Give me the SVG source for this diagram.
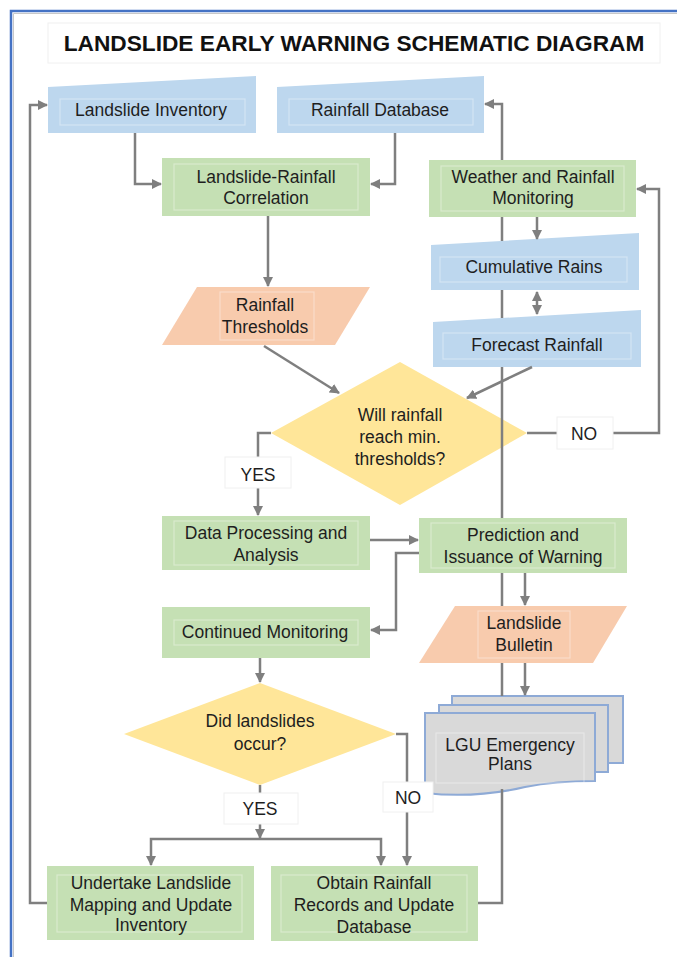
<svg xmlns="http://www.w3.org/2000/svg" width="677" height="957" viewBox="0 0 677 957">
<defs>
<marker id="ah" markerUnits="userSpaceOnUse" markerWidth="10" markerHeight="10" refX="9" refY="5" orient="auto-start-reverse" viewBox="0 0 10 10">
<path d="M0,0 L10,5 L0,10 z" fill="#7f7f7f"/>
</marker>
</defs>
<style>
text { font-family: "Liberation Sans", Arial, sans-serif; font-size: 17.5px; fill: #1e1e1e; text-anchor: middle; }
.title { font-size: 22.7px; font-weight: bold; fill: #111; }
.g { fill: #c5e0b4; }
.b { fill: #bdd7ee; }
.o { fill: #f8cbad; }
.y { fill: #ffe699; }
.doc { fill: #d9d9d9; stroke: #8eaad6; stroke-width: 2; }
.in { fill: none; stroke: #ffffff; stroke-opacity: 0.35; stroke-width: 1.2; }
.lbl { fill: #ffffff; stroke: #f0f0f0; stroke-width: 1; }
.c { fill: none; stroke: #7f7f7f; stroke-width: 2.5; }
.a { marker-end: url(#ah); }
.s { marker-start: url(#ah); }
</style>
<rect x="0" y="0" width="677" height="957" fill="#ffffff"/>
<rect x="11" y="11" width="700" height="1000" fill="none" stroke="#4472c4" stroke-width="2.5"/>
<line x1="13.5" y1="13.5" x2="677" y2="13.5" stroke="#c8c8c8" stroke-width="1"/>
<line x1="13.5" y1="13.5" x2="13.5" y2="957" stroke="#c8c8c8" stroke-width="1"/>

<g id="title">
<rect x="48" y="23" width="612" height="40" fill="#ffffff" stroke="#f0f0f0" stroke-width="1"/>
<text class="title" x="354" y="51">LANDSLIDE EARLY WARNING SCHEMATIC DIAGRAM</text>
</g>

<g id="landslide-inventory">
<path class="b" d="M48,87 L256,76 L256,133 L48,133 Z"/>
<rect class="in" x="60" y="99" width="185" height="26"/>
<text x="151" y="116">Landslide Inventory</text>
</g>

<g id="rainfall-database">
<path class="b" d="M277,87 L484,76 L484,133 L277,133 Z"/>
<rect class="in" x="289" y="99" width="184" height="26"/>
<text x="380" y="116">Rainfall Database</text>
</g>

<g id="correlation">
<rect class="g" x="162" y="158" width="208" height="58"/>
<rect class="in" x="174" y="164" width="184" height="46"/>
<text x="266" y="183">Landslide-Rainfall</text>
<text x="266" y="204">Correlation</text>
</g>

<g id="weather-monitoring">
<rect class="g" x="429" y="160" width="207" height="57"/>
<rect class="in" x="441" y="166" width="183" height="45"/>
<text x="533" y="183">Weather and Rainfall</text>
<text x="533" y="204">Monitoring</text>
</g>

<g id="cumulative-rains">
<path class="b" d="M431,245 L639,233 L639,290 L431,290 Z"/>
<rect class="in" x="440" y="257" width="187" height="25"/>
<text x="534" y="273">Cumulative Rains</text>
</g>

<g id="forecast-rainfall">
<path class="b" d="M433,322 L641,310 L641,367 L433,367 Z"/>
<rect class="in" x="443" y="333" width="188" height="26"/>
<text x="537" y="351">Forecast Rainfall</text>
</g>

<g id="rainfall-thresholds">
<path class="o" d="M197,287 L370,287 L335,345 L162,345 Z"/>
<rect class="in" x="220" y="292" width="94" height="48"/>
<text x="265" y="311">Rainfall</text>
<text x="265" y="333">Thresholds</text>
</g>

<g id="decision-threshold">
<path class="y" d="M400,362 L527,433 L400,505 L271,433 Z"/>
<text x="400" y="421">Will rainfall</text>
<text x="400" y="443">reach min.</text>
<text x="400" y="465">thresholds?</text>
</g>

<g id="data-processing">
<rect class="g" x="162" y="516" width="208" height="54"/>
<rect class="in" x="174" y="521" width="184" height="44"/>
<text x="266" y="539">Data Processing and</text>
<text x="266" y="561">Analysis</text>
</g>

<g id="prediction">
<rect class="g" x="419" y="518" width="208" height="55"/>
<rect class="in" x="431" y="523" width="184" height="45"/>
<text x="523" y="541">Prediction and</text>
<text x="523" y="563">Issuance of Warning</text>
</g>

<g id="continued-monitoring">
<rect class="g" x="162" y="607" width="208" height="51"/>
<rect class="in" x="174" y="620" width="184" height="25"/>
<text x="265" y="638">Continued Monitoring</text>
</g>

<g id="landslide-bulletin">
<path class="o" d="M455,606 L627,606 L593,663 L419,663 Z"/>
<rect class="in" x="478" y="611" width="92" height="47"/>
<text x="524" y="629">Landslide</text>
<text x="524" y="651">Bulletin</text>
</g>

<g id="lgu-plans">
<rect class="doc" x="452" y="696" width="171" height="67"/>
<rect class="doc" x="439" y="705" width="169" height="67"/>
<path class="doc" d="M425,713 L595,713 L595,781 C565,781 545,783 525,787 C495,794 460,797 425,793 Z"/>
<rect class="in" x="436" y="733" width="148" height="50"/>
<text x="510" y="751">LGU Emergency</text>
<text x="510" y="770">Plans</text>
</g>

<g id="decision-landslides">
<path class="y" d="M260,683 L396,734 L260,785 L124,734 Z"/>
<text x="260" y="727">Did landslides</text>
<text x="260" y="750">occur?</text>
</g>

<g id="undertake-mapping">
<rect class="g" x="47" y="866" width="207" height="74"/>
<rect class="in" x="57" y="875" width="185" height="57"/>
<text x="151" y="889">Undertake Landslide</text>
<text x="151" y="911">Mapping and Update</text>
<text x="151" y="931">Inventory</text>
</g>

<g id="obtain-records">
<rect class="g" x="271" y="866" width="207" height="75"/>
<rect class="in" x="281" y="875" width="186" height="57"/>
<text x="374" y="889">Obtain Rainfall</text>
<text x="374" y="911">Records and Update</text>
<text x="374" y="933">Database</text>
</g>

<g id="connectors">
<polyline class="c a" points="135,133 135,184 161,184"/>
<polyline class="c a" points="395,133 395,184 371,184"/>
<line class="c a" x1="268" y1="216" x2="268" y2="286"/>
<line class="c a" x1="537" y1="217" x2="537" y2="239"/>
<line class="c a s" x1="537" y1="292" x2="537" y2="314"/>
<line class="c a" x1="264" y1="346" x2="339" y2="393"/>
<line class="c a" x1="532" y1="367" x2="467" y2="398"/>
<line class="c" x1="527" y1="433" x2="557" y2="433"/>
<polyline class="c a" points="613,433 659,433 659,189 637,189"/>
<polyline class="c" points="271,433 258,433 258,457"/>
<line class="c a" x1="258" y1="488" x2="258" y2="515"/>
<line class="c a" x1="370" y1="540" x2="418" y2="540"/>
<polyline class="c a" points="419,553 396,553 396,630 371,630"/>
<line class="c a" x1="525" y1="573" x2="525" y2="605"/>
<line class="c a" x1="525" y1="663" x2="525" y2="695"/>
<line class="c a" x1="260" y1="658" x2="260" y2="682"/>
<line class="c" x1="260" y1="785" x2="260" y2="793"/>
<line class="c a" x1="260" y1="824" x2="260" y2="838"/>
<polyline class="c a s" points="151,865 151,839 381,839 381,865"/>
<polyline class="c" points="396,734 407,734 407,782"/>
<line class="c a" x1="407" y1="812" x2="407" y2="865"/>
<polyline class="c a" points="47,903 30,903 30,105 47,105"/>
<polyline class="c" points="478,903 502,903 502,789"/>
<line class="c" x1="502" y1="663" x2="502" y2="696"/>
<line class="c" x1="502" y1="573" x2="502" y2="606"/>
<line class="c" x1="502" y1="367" x2="502" y2="518"/>
<line class="c" x1="502" y1="290" x2="502" y2="318"/>
<line class="c" x1="502" y1="217" x2="502" y2="241"/>
<polyline class="c a" points="502,160 502,104 485,104"/>
</g>

<g id="labels">
<rect class="lbl" x="557" y="417" width="56" height="32"/>
<text x="584" y="440">NO</text>
<rect class="lbl" x="225" y="457" width="66" height="31"/>
<text x="258" y="481">YES</text>
<rect class="lbl" x="224" y="793" width="74" height="31"/>
<text x="260" y="815">YES</text>
<rect class="lbl" x="383" y="782" width="50" height="30"/>
<text x="408" y="804">NO</text>
</g>
</svg>
